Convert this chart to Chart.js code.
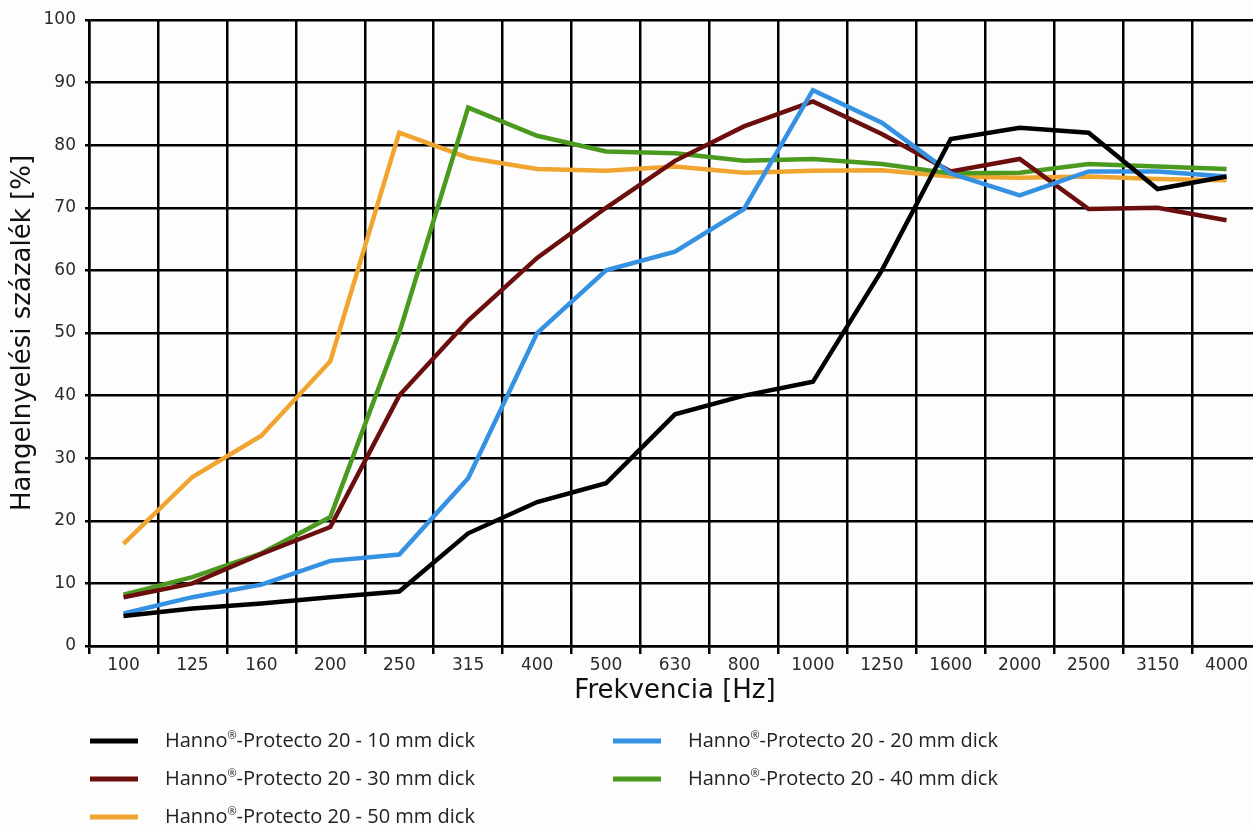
<!DOCTYPE html>
<html>
<head>
<meta charset="utf-8">
<script src="https://cdn.jsdelivr.net/npm/chart.js@4"></script>
<style>
  html, body { margin: 0; padding: 0; background: #fdfdfd; overflow: hidden; }
  #wrap { position: relative; width: 1262px; height: 825px; }
</style>
</head>
<body>
<div id="wrap"><canvas id="absorptionChart"></canvas></div>
<script>
// frequency bands (Hz)
const frequencies = ['100', '125', '160', '200', '250', '315', '400', '500', '630', '800', '1000', '1250', '1600', '2000', '2500', '3150', '4000']

// sound absorption in % per thickness
const thick10 = [4.8, 6, 6.8, 7.8, 8.7, 18, 23, 26, 37, 40, 42.2, 60, 81, 82.8, 82, 73, 75]
const thick20 = [5.2, 7.8, 9.8, 13.6, 14.6, 26.8, 50, 60, 63, 69.8, 88.8, 83.6, 75.5, 72, 75.8, 75.8, 75]
const thick30 = [7.8, 10, 14.7, 19, 40, 52, 62, 70, 77.5, 83, 87, 81.8, 75.8, 77.8, 69.8, 70, 68]
const thick40 = [8.2, 11, 14.8, 20.6, 50, 86, 81.5, 79, 78.7, 77.5, 77.8, 77, 75.5, 75.6, 77, 76.6, 76.2]
const thick50 = [16.3, 27, 33.6, 45.5, 82, 78, 76.2, 75.9, 76.6, 75.6, 75.9, 76, 75, 74.8, 75, 74.6, 74.4]

const seriesLabels = [
  'Hanno®-Protecto 20 - 10 mm dick',
  'Hanno®-Protecto 20 - 20 mm dick',
  'Hanno®-Protecto 20 - 30 mm dick',
  'Hanno®-Protecto 20 - 40 mm dick',
  'Hanno®-Protecto 20 - 50 mm dick'
]
const seriesColors = ['#000000', '#3592e2', '#6b0e0e', '#4b9a1f', '#f0a530']

const yTicks = [0, 10, 20, 30, 40, 50, 60, 70, 80, 90, 100]

// legend in two columns under the chart
const gridLegend = {
  id: 'gridLegend',
  afterDraw(chart, args, opts) {
    const ctx = chart.ctx
    ctx.save()
    chart.data.datasets.forEach((ds, i) => {
      const col = i % 2
      const row = Math.floor(i / 2)
      const x = opts.colX[col]
      const y = opts.rowY[row]
      ctx.fillStyle = ds.borderColor
      ctx.fillRect(x, y - 2.5, opts.swatch, 5)
      ctx.fillStyle = '#222'
      ctx.textBaseline = 'middle'
      let tx = x + opts.textGap
      const parts = ds.label.split('®')
      ctx.font = opts.font
      ctx.fillText(parts[0], tx, y)
      tx += ctx.measureText(parts[0]).width
      if (parts.length > 1) {
        ctx.font = opts.smallFont
        ctx.fillText('®', tx, y - 5)
        tx += ctx.measureText('®').width
        ctx.font = opts.font
        ctx.fillText(parts[1], tx, y)
      }
    })
    ctx.restore()
  }
}

const series = [thick10, thick20, thick30, thick40, thick50]

const config = {
  type: 'line',
  data: {
    labels: frequencies,
    datasets: series.map((vals, i) => ({
      label: seriesLabels[i],
      data: vals,
      borderColor: seriesColors[i],
      backgroundColor: seriesColors[i],
      borderWidth: 4.5,
      pointRadius: 0,
      tension: 0,
      fill: false
    }))
  },
  options: {
    responsive: true,
    maintainAspectRatio: false,
    animation: false,
    layout: {padding: {top: 20, left: 0, right: 1, bottom: 118}},
    scales: {
      x: {
        offset: true,
        grid: {offset: true, color: '#000', lineWidth: 2.5, tickLength: 8},
        border: {color: '#000', width: 2.5},
        ticks: {color: '#2a2a2a', padding: 1, font: {family: 'DejaVu Sans', size: 17}, maxRotation: 0, autoSkip: false},
        title: {display: true, text: 'Frekvencia [Hz]', color: '#111', padding: 0, font: {family: 'DejaVu Sans', size: 26}},
        afterFit(scale) { scale.height = 61 }
      },
      y: {
        min: 0,
        max: 100,
        afterBuildTicks(scale) { scale.ticks = yTicks.map(v => ({value: v})) },
        grid: {color: '#000', lineWidth: 2.5, tickLength: 4},
        border: {color: '#000', width: 2.5},
        ticks: {color: '#2a2a2a', padding: 9, font: {family: 'DejaVu Sans', size: 17}},
        title: {display: true, text: 'Hangelnyelési százalék [%]', color: '#111', padding: {top: 8, bottom: 0}, font: {family: 'DejaVu Sans', size: 26}},
        afterFit(scale) { scale.width = 89 }
      }
    },
    plugins: {
      legend: {display: false},
      tooltip: {enabled: false},
      gridLegend: {
        colX: [90, 613],
        rowY: [741, 779, 817],
        swatch: 48,
        textGap: 75,
        font: '20px "Open Sans", sans-serif',
        smallFont: '11px "Open Sans", sans-serif'
      }
    }
  },
  plugins: [gridLegend]
}

const myChart = new Chart(document.getElementById('absorptionChart'), config)
</script>
</body>
</html>
